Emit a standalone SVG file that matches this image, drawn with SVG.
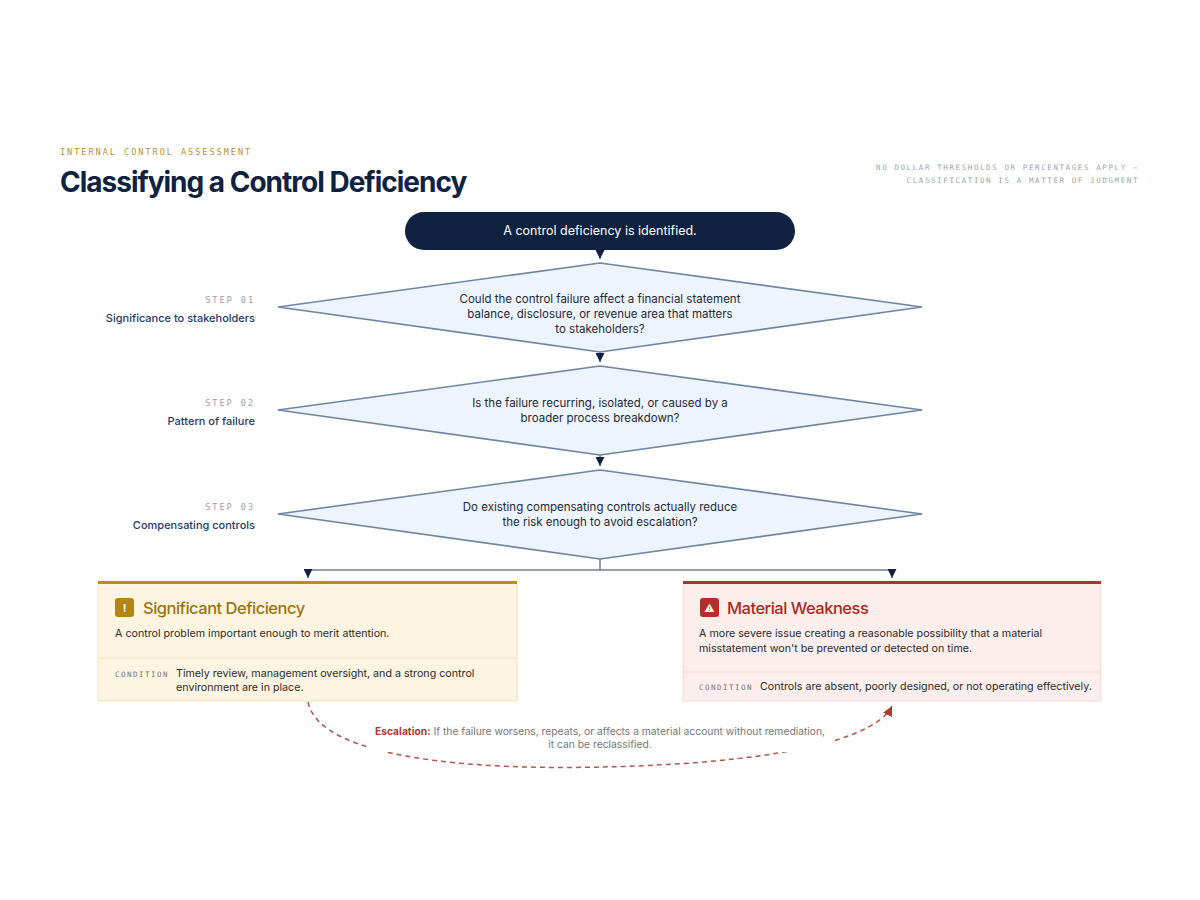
<svg xmlns="http://www.w3.org/2000/svg" width="1200" height="900" viewBox="0 0 1200 900">
<style>
.sans{font-family:Inter,"Liberation Sans",sans-serif}
.mono{font-family:"DejaVu Sans Mono","Liberation Mono",monospace}
.dia{fill:#eef4fc;stroke:#6f86a3;stroke-width:1.6}
.q{font-size:11.5px;fill:#1f2937;text-anchor:middle}
.step{font-size:8.5px;fill:#9aa0a8;letter-spacing:2px;text-anchor:end}
.sl{font-size:11px;fill:#1e3a6b;font-weight:500;text-anchor:end}
.conn{stroke:#6f7f94;stroke-width:1.5;fill:none}
.cond{font-size:7.5px;fill:#777;letter-spacing:1.5px}
.body{font-size:10.7px;fill:#2b2b2b}
</style>
<defs>
<marker id="ah" viewBox="0 0 10 10" refX="10" refY="5" markerWidth="9" markerHeight="9" orient="auto" markerUnits="userSpaceOnUse"><path d="M0,0 L10,5 L0,10 Z" fill="#0f2240"/></marker>
<marker id="ar" viewBox="0 0 10 10" refX="10" refY="5" markerWidth="10" markerHeight="10" orient="auto" markerUnits="userSpaceOnUse"><path d="M0,0 L10,5 L0,10 Z" fill="#b03a2e"/></marker>
</defs>
<rect width="1200" height="900" fill="#fff"/>
<text x="60" y="155" class="mono" font-size="8.5" fill="#b8922a" letter-spacing="2">INTERNAL CONTROL ASSESSMENT</text>
<text x="60" y="192" class="sans" font-size="28" font-weight="700" fill="#0f2240" letter-spacing="-1">Classifying a Control Deficiency</text>
<text x="1139" y="170" class="mono" font-size="7.5" fill="#a0a4aa" letter-spacing="1.6" text-anchor="end">NO DOLLAR THRESHOLDS OR PERCENTAGES APPLY —</text>
<text x="1139" y="183" class="mono" font-size="7.5" fill="#a0a4aa" letter-spacing="1.6" text-anchor="end">CLASSIFICATION IS A MATTER OF JUDGMENT</text>

<g id="connectors">
<line class="conn" x1="600" y1="250" x2="600" y2="259" marker-end="url(#ah)"/>
<line class="conn" x1="600" y1="352" x2="600" y2="362" marker-end="url(#ah)"/>
<line class="conn" x1="600" y1="455" x2="600" y2="466" marker-end="url(#ah)"/>
<polyline class="conn" points="600,559 600,570"/>
<polyline class="conn" points="308,570 892,570"/>
<line class="conn" x1="308" y1="570" x2="308" y2="578" marker-end="url(#ah)"/>
<line class="conn" x1="892" y1="570" x2="892" y2="578" marker-end="url(#ah)"/>
<path d="M308,702 C320,760 480,770 600,767 C720,765 870,750 892,706" fill="none" stroke="#b5544a" stroke-width="1.5" stroke-dasharray="5,4" marker-end="url(#ar)"/>
<rect x="368" y="718" width="464" height="34" fill="#fff"/>
</g>

<g id="start">
<rect x="405" y="212" width="390" height="38" rx="19" fill="#0f2240"/>
<text x="600" y="235" class="sans" font-size="12.5" fill="#fff" text-anchor="middle">A control deficiency is identified.</text>
</g>

<g id="step1">
<polygon class="dia" points="600,263 922,307 600,352 278,307"/>
<text x="255" y="303" class="step mono">STEP 01</text>
<text x="255" y="322" class="sl sans">Significance to stakeholders</text>
<text class="q sans" x="600" y="303">Could the control failure affect a financial statement</text>
<text class="q sans" x="600" y="318">balance, disclosure, or revenue area that matters</text>
<text class="q sans" x="600" y="333">to stakeholders?</text>
</g>
<g id="step2">
<polygon class="dia" points="600,366 922,410 600,455 278,410"/>
<text x="255" y="406" class="step mono">STEP 02</text>
<text x="255" y="425" class="sl sans">Pattern of failure</text>
<text class="q sans" x="600" y="407">Is the failure recurring, isolated, or caused by a</text>
<text class="q sans" x="600" y="422">broader process breakdown?</text>
</g>
<g id="step3">
<polygon class="dia" points="600,470 922,514 600,559 278,514"/>
<text x="255" y="510" class="step mono">STEP 03</text>
<text x="255" y="529" class="sl sans">Compensating controls</text>
<text class="q sans" x="600" y="511">Do existing compensating controls actually reduce</text>
<text class="q sans" x="600" y="526">the risk enough to avoid escalation?</text>
</g>

<g id="significant">
<rect x="98" y="582" width="419" height="119" fill="#fdf5e2" stroke="#f3e2bb" stroke-width="1"/>
<rect x="98" y="581" width="419" height="3" fill="#b8900f"/>
<line x1="98" y1="658" x2="517" y2="658" stroke="#f0e2c4"/>
<rect x="115" y="598" width="19" height="19" rx="3" fill="#b58512"/>
<text x="124.5" y="612" class="sans" font-size="11" font-weight="700" fill="#fff" text-anchor="middle">!</text>
<text x="143" y="614" class="sans" font-size="16.5" font-weight="500" fill="#9a7412" letter-spacing="-0.5">Significant Deficiency</text>
<text x="115" y="637" class="body sans">A control problem important enough to merit attention.</text>
<text x="115" y="677" class="cond mono">CONDITION</text>
<text x="176" y="677" class="body sans">Timely review, management oversight, and a strong control</text>
<text x="176" y="691" class="body sans">environment are in place.</text>
</g>

<g id="material">
<rect x="683" y="582" width="418" height="119" fill="#fbeeed" stroke="#f2d6d4" stroke-width="1"/>
<rect x="683" y="581" width="418" height="3" fill="#b0302a"/>
<line x1="683" y1="672" x2="1101" y2="672" stroke="#f0dcda"/>
<rect x="700" y="598" width="19" height="19" rx="3" fill="#b0302a"/>
<text x="709.5" y="612" class="sans" font-size="10" fill="#fff" text-anchor="middle">⚠</text>
<text x="727" y="614" class="sans" font-size="16.5" font-weight="500" fill="#a82a24" letter-spacing="-0.5">Material Weakness</text>
<text x="699" y="637" class="body sans">A more severe issue creating a reasonable possibility that a material</text>
<text x="699" y="652" class="body sans">misstatement won't be prevented or detected on time.</text>
<text x="699" y="690" class="cond mono">CONDITION</text>
<text x="760" y="690" class="body sans">Controls are absent, poorly designed, or not operating effectively.</text>
</g>

<g id="escalation">
<text x="600" y="735" class="sans" font-size="10.3" fill="#777" text-anchor="middle"><tspan fill="#b03a2e" font-weight="700">Escalation:</tspan> If the failure worsens, repeats, or affects a material account without remediation,</text>
<text x="600" y="748" class="sans" font-size="10.3" fill="#777" text-anchor="middle">it can be reclassified.</text>
</g>
</svg>
